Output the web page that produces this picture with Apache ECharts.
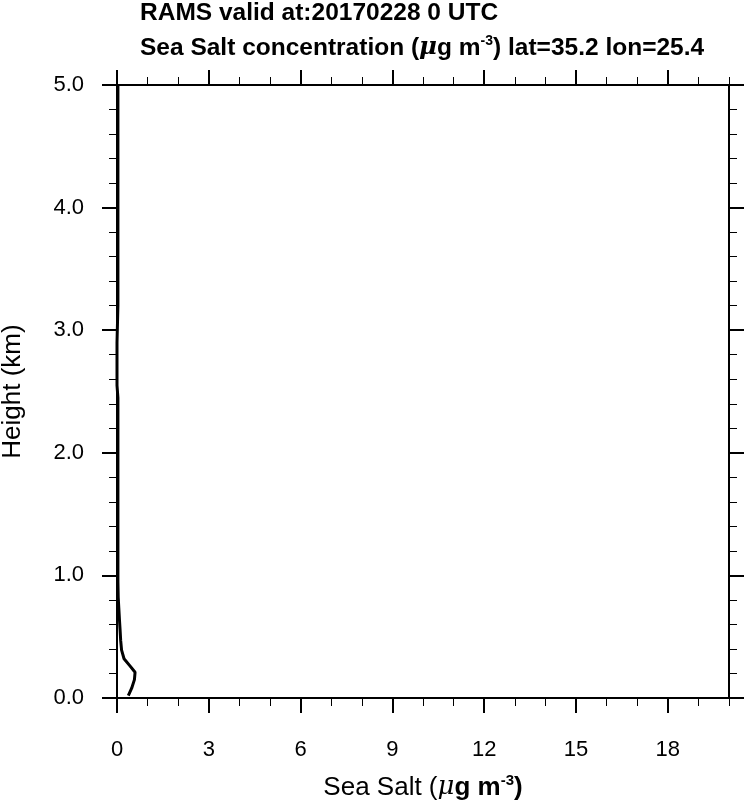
<!DOCTYPE html>
<html>
<head>
<meta charset="utf-8">
<script src="https://cdn.jsdelivr.net/npm/echarts@6/dist/echarts.min.js"></script>
<style>
html,body{margin:0;padding:0;background:#fff;}
#chart{width:746px;height:800px;}
</style>
</head>
<body>
<div id="chart"></div>
<script>
// Data
const titleLine1 = 'RAMS valid at:20170228 0 UTC';
const heightsKm = [0.02, 0.08, 0.15, 0.21, 0.26, 0.32, 0.39, 0.47, 0.56, 0.64, 0.73, 0.82, 0.95, 1.1, 1.3, 1.6, 2.0, 2.45, 2.55, 2.9, 3.2, 3.6, 4.0, 4.5, 5.0];
const seaSalt   = [0.37, 0.48, 0.57, 0.59, 0.43, 0.23, 0.15, 0.12, 0.10, 0.08, 0.06, 0.04, 0.03, 0.03, 0.03, 0.03, 0.03, 0.03, 0.0, 0.0, 0.03, 0.03, 0.03, 0.03, 0.03];
const xMajorTicks = [0, 3, 6, 9, 12, 15, 18];
const yMajorTicks = [0, 1, 2, 3, 4, 5];

const chart = echarts.init(document.getElementById('chart'), null, {renderer: 'canvas'});
const FONT = 'Liberation Sans';
const black = '#000';

const grid = {left: 117, right: 17, top: 85, bottom: 102, containLabel: false, outerBoundsMode: 'none'};

function xAx(pos, major) {
  return {
    type: 'value', position: pos, min: 0, max: 20,
    interval: major ? 3 : 1,
    axisLine: {show: major, onZero: false, lineStyle: {color: black, width: 2}},
    axisTick: major
      ? {show: true, inside: false, length: 15, customValues: xMajorTicks, lineStyle: {color: black, width: 2}}
      : {show: true, inside: false, length: 8, lineStyle: {color: black, width: 1}},
    axisLabel: {show: major && pos === 'bottom', customValues: xMajorTicks, margin: 41,
      fontFamily: FONT, fontSize: 22, color: black},
    splitLine: {show: false}
  };
}
function yAx(pos, major) {
  return {
    type: 'value', position: pos, min: 0, max: 5,
    interval: major ? 1 : 0.2,
    axisLine: {show: major, onZero: false, lineStyle: {color: black, width: 2}},
    axisTick: major
      ? {show: true, inside: false, length: 15, customValues: yMajorTicks, lineStyle: {color: black, width: 2}}
      : {show: true, inside: false, length: 8, lineStyle: {color: black, width: 1}},
    axisLabel: {show: major && pos === 'left', customValues: yMajorTicks, margin: 33, fontFamily: FONT, fontSize: 22, color: black,
      formatter: v => v.toFixed(1)},
    splitLine: {show: false}
  };
}

const xAxes = [xAx('bottom', true), xAx('bottom', false), xAx('top', true), xAx('top', false)];
xAxes[0].name = '{r|Sea Salt (}{mu|μ}{b|g m}{sup|-3}{b|)}';
xAxes[0].nameLocation = 'middle';
xAxes[0].nameGap = 75;
xAxes[0].nameTextStyle = {
  rich: {
    r: {fontFamily: FONT, fontSize: 26, color: black},
    mu: {fontFamily: 'DejaVu Serif', fontStyle: 'italic', fontSize: 26, color: black},
    b: {fontFamily: FONT, fontWeight: 'bold', fontSize: 26, color: black},
    sup: {fontFamily: FONT, fontWeight: 'bold', fontSize: 15, color: black, verticalAlign: 'top', padding: [0, 0, 14, 0]}
  }
};
const yAxes = [yAx('left', true), yAx('left', false), yAx('right', true), yAx('right', false)];
yAxes[0].name = 'Height (km)';
yAxes[0].nameLocation = 'middle';
yAxes[0].nameGap = 91;
yAxes[0].nameTextStyle = {fontFamily: FONT, fontSize: 26, color: black};

const data = heightsKm.map((h, i) => [seaSalt[i], h]);

chart.setOption({
  backgroundColor: '#fff',
  animation: false,
  title: [
    {text: titleLine1, left: 140, top: 1, padding: 0,
      textStyle: {fontFamily: FONT, fontWeight: 'bold', fontSize: 24.5, color: black}},
    {text: '{b|Sea Salt concentration (}{mu|μ}{b|g m}{sup|-3}{b|) lat=35.2 lon=25.4}', left: 140, top: 34, padding: 0,
      textStyle: {
        rich: {
          b: {fontFamily: FONT, fontWeight: 'bold', fontSize: 24.5, color: black},
          mu: {fontFamily: 'DejaVu Serif', fontStyle: 'italic', fontSize: 24.5, color: black},
          sup: {fontFamily: FONT, fontWeight: 'bold', fontSize: 14, color: black, verticalAlign: 'top', padding: [0, 0, 14, 0]}
        }
      }}
  ],
  grid: grid,
  xAxis: xAxes,
  yAxis: yAxes,
  series: [{
    type: 'line', xAxisIndex: 0, yAxisIndex: 0,
    data: data, showSymbol: false, smooth: false,
    lineStyle: {color: black, width: 3},
    z: 5
  }]
});
</script>
</body>
</html>
